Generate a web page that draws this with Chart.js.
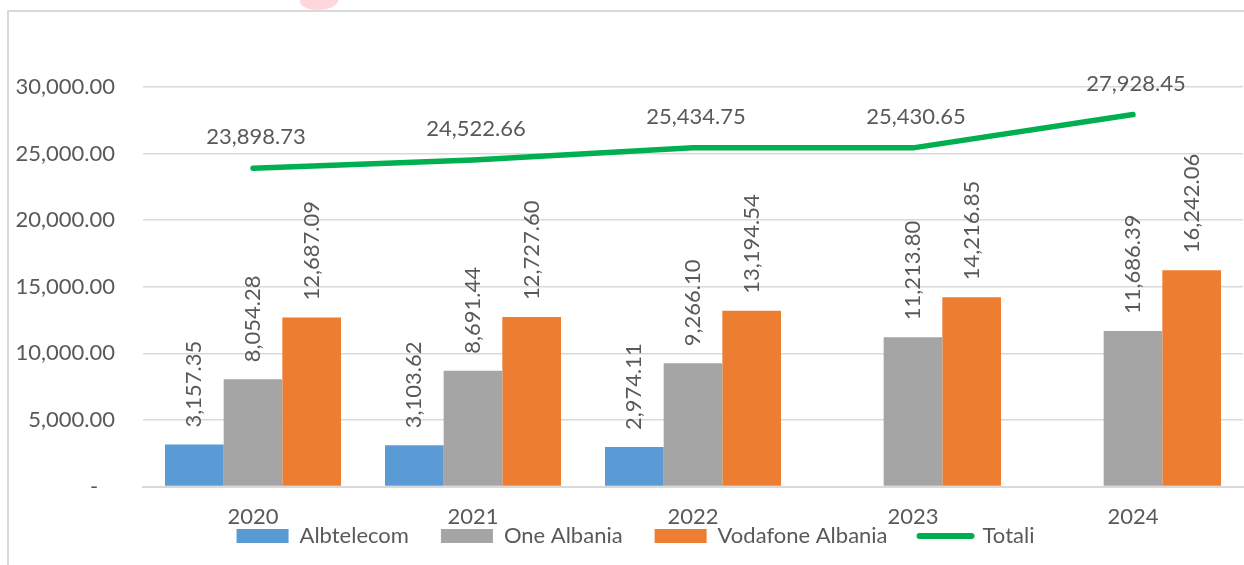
<!DOCTYPE html>
<html>
<head>
<meta charset="utf-8">
<script src="https://cdn.jsdelivr.net/npm/chart.js@4.4.1/dist/chart.umd.min.js"></script>
<style>
    html, body { margin: 0; padding: 0; background: #fff; overflow: hidden; }
    #wrap { position: relative; width: 1244px; height: 565px; }
    #frame { position: absolute; left: 7px; top: 10px; width: 1300px; height: 600px; border: 2px solid #d9d9d9; box-sizing: border-box; }
    #mark { position: absolute; left: 300px; top: -8px; width: 38px; height: 18px; background: #fdd7db; border-radius: 0 0 45% 55%; transform: skewX(-18deg); }
    #chart-box { position: absolute; left: 0; top: 0; width: 1244px; height: 565px; }
</style>
</head>
<body>
<div id="wrap">
    <div id="mark"></div>
    <div id="frame"></div>
    <div id="chart-box"><canvas id="chart-main"></canvas></div>
</div>
<script>
const years = ['2020', '2021', '2022', '2023', '2024'];
const albtelecom = [3157.35, 3103.62, 2974.11, null, null];
const oneAlbania = [8054.28, 8691.44, 9266.10, 11213.80, 11686.39];
const vodafone = [12687.09, 12727.60, 13194.54, 14216.85, 16242.06];
const totali = [23898.73, 24522.66, 25434.75, 25430.65, 27928.45];
const yTicks = [0, 5000, 10000, 15000, 20000, 25000, 30000];

const textColor = '#595959';
const gridColor = '#d9d9d9';
const fontFamily = "'Lato', 'Open Sans', sans-serif";
const fontSize = 22;
const legendPad = 32;

Chart.defaults.color = textColor;
Chart.defaults.font.family = fontFamily;
Chart.defaults.font.size = fontSize;

const fmt = v => v.toLocaleString('en-US', { minimumFractionDigits: 2, maximumFractionDigits: 2 });

// value labels: rotated above bars, flat above the total line
const valueLabels = {
    id: 'valueLabels',
    afterLayout(chart) {
        // pull the legend up close under the year labels
        const l = chart.legend;
        const d = l.top - (536 - legendPad - fontSize / 2);
        l.top -= d; l.bottom -= d;
        l.left += 14; l.right += 14;
    },
    afterDatasetsDraw(chart) {
        const ctx = chart.ctx;
        chart.data.datasets.forEach((ds, i) => {
            const meta = chart.getDatasetMeta(i);
            meta.data.forEach((el, j) => {
                const v = ds.data[j];
                if (v == null) return;
                ctx.save();
                ctx.fillStyle = textColor;
                ctx.font = fontSize + 'px ' + fontFamily;
                ctx.textBaseline = 'middle';
                if (ds.type === 'line') {
                    ctx.textAlign = 'center';
                    ctx.fillText(fmt(v), el.x + 3, el.y - 31);
                } else {
                    ctx.translate(el.x, el.y - 17);
                    ctx.rotate(-Math.PI / 2);
                    ctx.textAlign = 'left';
                    ctx.fillText(fmt(v), 0, 0);
                }
                ctx.restore();
            });
        });
    }
};

const barOpts = { categoryPercentage: 0.8, barPercentage: 1.0, borderWidth: 0 };

new Chart(document.getElementById('chart-main').getContext('2d'), {
    type: 'bar',
    data: {
        labels: years,
        datasets: [
            { label: 'Albtelecom', data: albtelecom, backgroundColor: '#5b9bd5', ...barOpts },
            { label: 'One Albania', data: oneAlbania, backgroundColor: '#a5a5a5', ...barOpts },
            { label: 'Vodafone Albania', data: vodafone, backgroundColor: '#ed7d31', ...barOpts },
            { type: 'line', label: 'Totali', data: totali, borderColor: '#00b050', backgroundColor: '#00b050',
              borderWidth: 5.5, pointRadius: 0, pointHoverRadius: 0, borderCapStyle: 'round', borderJoinStyle: 'round', tension: 0 }
        ]
    },
    options: {
        responsive: true, maintainAspectRatio: false, animation: false,
        layout: { padding: { top: 87, right: 1, left: 0, bottom: -46 } },
        plugins: {
            tooltip: { enabled: false },
            legend: {
                position: 'bottom',
                labels: {
                    usePointStyle: true, pointStyleWidth: 52, boxHeight: 14, padding: legendPad, color: textColor,
                    generateLabels: chart => Chart.defaults.plugins.legend.labels.generateLabels(chart).map(l => {
                        const ds = chart.data.datasets[l.datasetIndex];
                        if (ds.type === 'line') {
                            l.pointStyle = 'line'; l.lineWidth = 6; l.strokeStyle = '#00b050'; l.lineCap = 'round';
                        } else {
                            l.pointStyle = 'rect'; l.lineWidth = 0;
                        }
                        return l;
                    })
                }
            }
        },
        scales: {
            x: {
                grid: { display: false, drawTicks: false },
                border: { display: true, color: gridColor, width: 2 },
                ticks: { padding: 17, color: textColor }
            },
            y: {
                min: 0, max: 30000,
                afterBuildTicks: s => { s.ticks = yTicks.map(v => ({ value: v })); },
                afterFit: s => { s.width = 143; },
                grid: { color: gridColor, lineWidth: 1.5, drawTicks: false },
                border: { display: false },
                ticks: { padding: 28, color: textColor, callback: v => v === 0 ? '-   ' : fmt(v) }
            }
        }
    },
    plugins: [valueLabels]
});
</script>
</body>
</html>
